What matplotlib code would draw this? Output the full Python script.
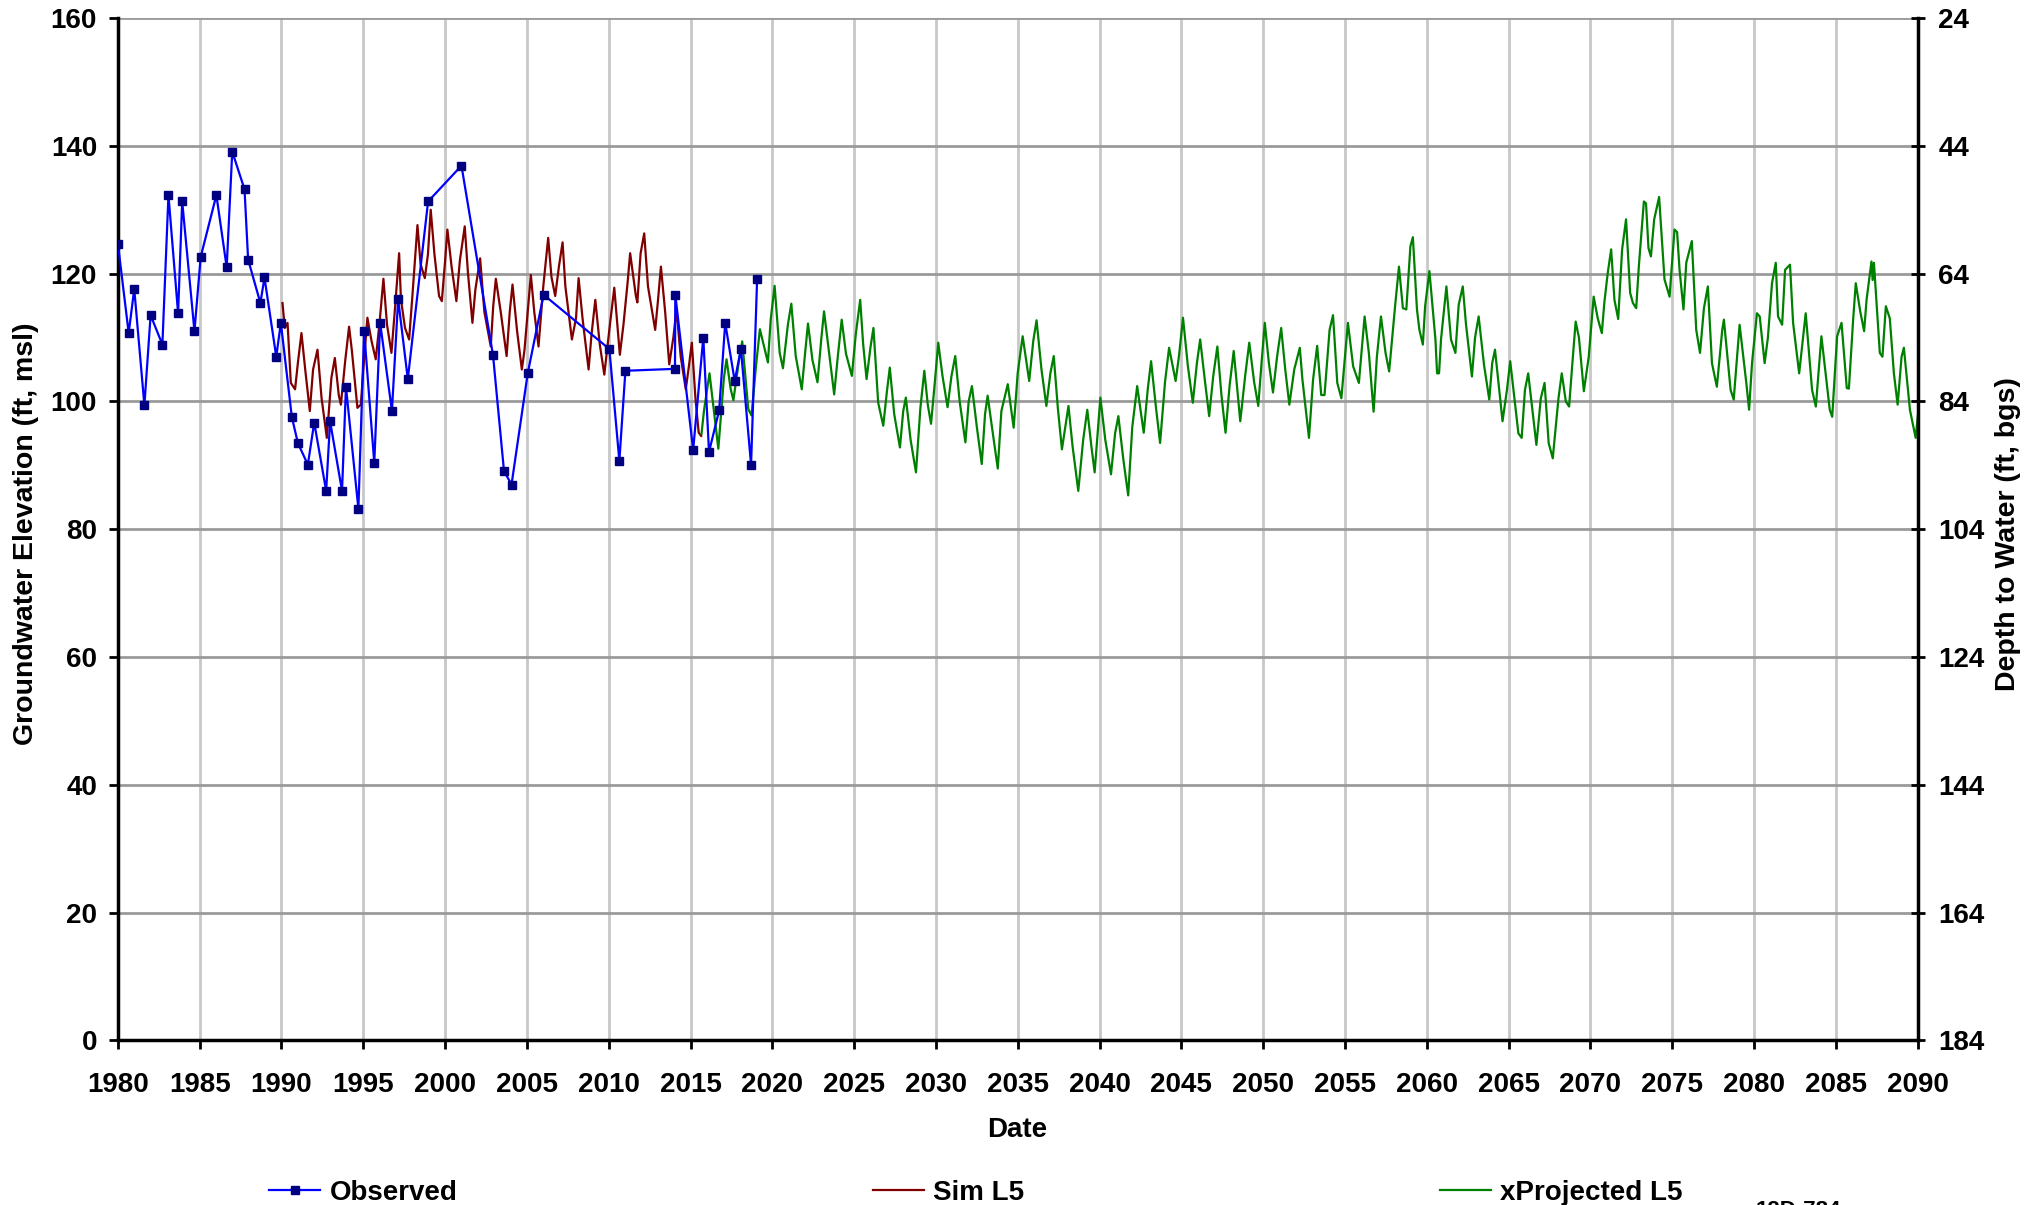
import matplotlib.pyplot as plt
from matplotlib.lines import Line2D

plt.rcParams['font.family'] = ['Liberation Sans', 'DejaVu Sans']
plt.rcParams['font.weight'] = 'bold'

# Observed groundwater elevations (ft, msl)
obs_year = [1980.0, 1980.66, 1981.0, 1981.62, 1982.0, 1982.72, 1983.09, 1983.68, 1983.93,
            1984.68, 1985.06, 1986.02, 1986.65, 1986.99, 1987.74, 1987.96, 1988.71, 1988.96,
            1989.68, 1989.96, 1990.63, 1991.0, 1991.61, 1992.0, 1992.73, 1992.97, 1993.70,
            1993.94, 1994.70, 1995.05, 1995.67, 1996.03, 1996.75, 1997.13, 1997.72, 1998.96,
            2001.0, 2002.93, 2003.60, 2004.06, 2005.05, 2006.02, 2010.04, 2010.65, 2011.02,
            2014.05, 2014.07, 2015.16, 2015.78, 2016.13, 2016.75, 2017.12, 2017.70, 2018.08,
            2018.70, 2019.07]
obs_elev = [124.7, 110.7, 117.6, 99.4, 113.5, 108.9, 132.3, 113.8, 131.3,
            111.0, 122.6, 132.3, 121.0, 139.1, 133.2, 122.2, 115.4, 119.4,
            107.0, 112.3, 97.6, 93.5, 90.1, 96.7, 86.0, 96.9, 86.0,
            102.3, 83.2, 111.0, 90.4, 112.3, 98.5, 116.0, 103.5, 131.3,
            136.9, 107.2, 89.1, 87.0, 104.4, 116.7, 108.2, 90.7, 104.8,
            105.1, 116.7, 92.4, 110.0, 92.1, 98.6, 112.3, 103.2, 108.2,
            90.1, 119.2]

# Simulated L5 (monthly, read as peaks / troughs / shoulders)
sim_year = [1990.06, 1990.2, 1990.37, 1990.57, 1990.83, 1991.0, 1991.22, 1991.45, 1991.73,
            1991.93, 1992.2, 1992.45, 1992.77, 1993.05, 1993.26, 1993.5, 1993.63, 1993.9,
            1994.13, 1994.3, 1994.64, 1994.85, 1995.0, 1995.25, 1995.5, 1995.76, 1996.0,
            1996.23, 1996.45, 1996.72, 1996.95, 1997.19, 1997.3, 1997.55, 1997.8, 1998.0,
            1998.31, 1998.5, 1998.76, 1998.95, 1999.12, 1999.35, 1999.63, 1999.8, 2000.0,
            2000.14, 2000.4, 2000.69, 2000.9, 2001.2, 2001.4, 2001.67, 2001.85, 2002.14,
            2002.4, 2002.79, 2002.94, 2003.1, 2003.4, 2003.76, 2003.95, 2004.12, 2004.4,
            2004.69, 2004.85, 2005.24, 2005.45, 2005.71, 2006.0, 2006.3, 2006.5, 2006.73,
            2006.95, 2007.18, 2007.35, 2007.75, 2008.0, 2008.16, 2008.4, 2008.77, 2008.95,
            2009.18, 2009.45, 2009.73, 2010.05, 2010.34, 2010.68, 2010.9, 2011.15, 2011.31,
            2011.66, 2011.75, 2011.95, 2012.17, 2012.4, 2012.84, 2013.0, 2013.19, 2013.45,
            2013.7, 2013.95, 2014.14, 2014.4, 2014.71, 2014.9, 2015.08, 2015.3, 2015.5,
            2015.65]
sim_elev = [115.4, 111.5, 112.3, 102.9, 101.9, 106.0, 110.7, 105.0, 98.5,
            105.0, 108.1, 100.5, 94.3, 103.7, 106.8, 101.0, 99.5, 106.5,
            111.7, 108.0, 99.0, 99.5, 105.0, 113.1, 109.5, 106.6, 112.5,
            119.2, 112.0, 107.6, 115.0, 123.2, 116.0, 111.5, 109.7, 116.5,
            127.6, 121.5, 119.3, 123.0, 130.0, 123.0, 116.5, 115.7, 122.0,
            126.9, 121.0, 115.7, 122.0, 127.4, 120.0, 112.3, 117.5, 122.4,
            114.0, 108.6, 114.9, 119.2, 114.0, 107.1, 114.0, 118.3, 111.0,
            105.0, 108.0, 119.8, 114.0, 108.6, 118.0, 125.6, 119.5, 116.5,
            121.0, 124.9, 118.0, 109.7, 113.0, 119.3, 113.0, 105.0, 110.5,
            115.9, 109.0, 104.2, 111.5, 117.8, 107.3, 112.0, 118.5, 123.2,
            116.5, 115.5, 123.2, 126.3, 118.0, 111.2, 115.5, 121.1, 114.0,
            105.8, 110.0, 114.4, 107.0, 101.9, 105.5, 109.2, 100.5, 95.1,
            94.6]

# Projected L5 (monthly, read as peaks / troughs / shoulders)
proj_year = [2015.67, 2015.82, 2016.16, 2016.45, 2016.7, 2017.04, 2017.2, 2017.45, 2017.62,
             2018.0, 2018.16, 2018.53, 2018.73, 2019.0, 2019.24, 2019.55, 2019.73, 2019.9,
             2020.14, 2020.45, 2020.65, 2020.95, 2021.16, 2021.43, 2021.8, 2022.0, 2022.18,
             2022.45, 2022.76, 2023.0, 2023.16, 2023.45, 2023.78, 2024.0, 2024.24, 2024.5,
             2024.86, 2025.1, 2025.37, 2025.55, 2025.76, 2026.0, 2026.18, 2026.47, 2026.78,
             2027.0, 2027.18, 2027.45, 2027.8, 2028.0, 2028.16, 2028.45, 2028.78, 2029.05,
             2029.29, 2029.5, 2029.7, 2029.95, 2030.14, 2030.4, 2030.71, 2030.95, 2031.18,
             2031.45, 2031.8, 2032.0, 2032.2, 2032.5, 2032.8, 2033.0, 2033.16, 2033.45,
             2033.78, 2034.0, 2034.39, 2034.75, 2035.0, 2035.3, 2035.7, 2035.95, 2036.15,
             2036.45, 2036.75, 2037.0, 2037.2, 2037.45, 2037.7, 2038.1, 2038.35, 2038.7,
             2039.0, 2039.25, 2039.5, 2039.7, 2040.05, 2040.35, 2040.7, 2040.95, 2041.15,
             2041.45, 2041.75, 2042.0, 2042.3, 2042.7, 2042.95, 2043.15, 2043.45, 2043.7,
             2044.0, 2044.25, 2044.65, 2044.85, 2045.1, 2045.4, 2045.7, 2045.95, 2046.15,
             2046.45, 2046.7, 2046.95, 2047.2, 2047.45, 2047.7, 2047.95, 2048.2, 2048.6,
             2048.9, 2049.15, 2049.45, 2049.7, 2049.9, 2050.1, 2050.35, 2050.6, 2050.85,
             2051.1, 2051.35, 2051.6, 2051.9, 2052.24, 2052.4, 2052.8, 2053.05, 2053.3,
             2053.55, 2053.75, 2054.06, 2054.27, 2054.53, 2054.78, 2055.18, 2055.5, 2055.85,
             2056.2, 2056.46, 2056.75, 2056.95, 2057.2, 2057.48, 2057.7, 2058.07, 2058.3,
             2058.54, 2058.75, 2059.0, 2059.15, 2059.4, 2059.55, 2059.76, 2059.9, 2060.16,
             2060.37, 2060.53, 2060.63, 2060.75, 2060.87, 2061.2, 2061.48, 2061.75, 2061.95,
             2062.2, 2062.4, 2062.76, 2062.95, 2063.17, 2063.5, 2063.82, 2064.0, 2064.17,
             2064.63, 2064.9, 2065.1, 2065.6, 2065.8, 2066.0, 2066.2, 2066.7, 2066.97,
             2067.2, 2067.45, 2067.7, 2068.05, 2068.25, 2068.5, 2068.7, 2068.9, 2069.1,
             2069.3, 2069.6, 2069.9, 2070.2, 2070.45, 2070.7, 2070.85, 2071.06, 2071.27,
             2071.47, 2071.7, 2071.94, 2072.18, 2072.43, 2072.6, 2072.8, 2072.96, 2073.27,
             2073.4, 2073.55, 2073.7, 2073.9, 2074.2, 2074.53, 2074.84, 2075.14, 2075.3,
             2075.45, 2075.69, 2075.86, 2076.2, 2076.47, 2076.7, 2076.94, 2077.18, 2077.43,
             2077.73, 2078.06, 2078.16, 2078.57, 2078.76, 2079.12, 2079.53, 2079.7, 2079.88,
             2080.18, 2080.35, 2080.65, 2080.85, 2081.1, 2081.33, 2081.47, 2081.72, 2081.9,
             2082.2, 2082.39, 2082.76, 2083.16, 2083.55, 2083.78, 2084.12, 2084.63, 2084.78,
             2085.08, 2085.35, 2085.67, 2085.8, 2086.06, 2086.22, 2086.5, 2086.73, 2086.88,
             2087.18, 2087.25, 2087.33, 2087.69, 2087.85, 2088.06, 2088.3, 2088.55, 2088.78,
             2089.02, 2089.16, 2089.53, 2089.88, 2090.14]
proj_elev = [94.9, 98.5, 104.4, 98.0, 92.6, 103.7, 106.6, 102.0, 100.2,
             107.1, 109.4, 98.8, 97.8, 105.5, 111.3, 108.0, 106.1, 112.8,
             118.1, 107.6, 105.2, 112.0, 115.3, 107.1, 101.9, 107.5, 112.2,
             106.5, 103.0, 110.0, 114.1, 108.0, 101.1, 107.0, 112.8, 107.5,
             104.0, 110.5, 115.9, 109.0, 103.5, 108.5, 111.5, 99.8, 96.2,
             101.5, 105.3, 98.0, 92.8, 98.5, 100.6, 94.0, 88.9, 99.0,
             104.8, 99.5, 96.5, 103.5, 109.2, 104.0, 99.1, 104.0, 107.1,
             100.0, 93.6, 100.0, 102.4, 96.0, 90.2, 98.0, 100.9, 95.5,
             89.5, 98.5, 102.7, 95.9, 104.5, 110.2, 103.2, 109.5, 112.7,
             105.0, 99.3, 104.5, 107.1, 99.0, 92.5, 99.3, 93.0, 86.0,
             94.0, 98.7, 93.0, 88.9, 100.6, 94.0, 88.6, 95.0, 97.7,
             91.0, 85.3, 96.0, 102.4, 95.1, 102.0, 106.3, 99.0, 93.5,
             103.0, 108.4, 103.2, 107.0, 113.1, 105.5, 99.8, 106.0, 109.7,
             103.0, 97.7, 104.0, 108.6, 101.0, 95.1, 102.5, 107.9, 96.9,
             104.0, 109.2, 103.0, 99.3, 106.0, 112.3, 106.0, 101.4, 107.0,
             111.5, 105.0, 99.5, 105.0, 108.4, 103.4, 94.3, 103.4, 108.7,
             101.0, 101.0, 111.2, 113.5, 102.9, 100.5, 112.3, 105.5, 102.9,
             113.3, 107.6, 98.4, 107.0, 113.3, 107.6, 104.7, 115.1, 121.1,
             114.6, 114.4, 124.3, 125.7, 114.4, 111.2, 108.9, 114.9, 120.4,
             114.4, 109.7, 104.4, 104.4, 109.7, 118.0, 109.7, 107.6, 115.1,
             118.0, 112.0, 103.9, 110.0, 113.3, 105.7, 100.3, 106.0, 108.1,
             96.9, 101.8, 106.3, 95.0, 94.3, 101.8, 104.4, 93.2, 100.5,
             102.9, 93.5, 91.1, 100.5, 104.4, 100.0, 99.2, 106.0, 112.5,
             110.0, 101.6, 107.0, 116.4, 113.0, 110.7, 115.4, 120.1, 123.8,
             115.9, 112.9, 123.8, 128.5, 117.0, 115.4, 114.6, 121.1, 131.3,
             131.0, 124.0, 122.7, 128.5, 132.0, 119.1, 116.4, 126.9, 126.5,
             120.6, 114.4, 121.7, 125.1, 111.2, 107.6, 114.6, 118.0, 106.0,
             102.3, 111.2, 112.8, 101.8, 100.3, 112.0, 102.9, 98.7, 106.0,
             113.8, 113.3, 106.0, 110.0, 118.5, 121.7, 113.3, 112.0, 120.6,
             121.4, 112.3, 104.4, 113.8, 101.8, 99.2, 110.2, 98.7, 97.6,
             110.2, 112.3, 102.1, 102.0, 112.8, 118.5, 114.0, 111.0, 115.9,
             121.9, 119.0, 121.7, 107.6, 107.0, 114.9, 113.0, 104.4, 99.5,
             107.0, 108.4, 98.7, 94.3, 101.0]

x_ticks = list(range(1980, 2091, 5))
elev_ticks = list(range(0, 161, 20))
depth_ticks = list(range(24, 185, 20))

fig = plt.figure(figsize=(20.29, 12.05), dpi=100)
ax = fig.add_axes([0.0581, 0.1366, 0.8870, 0.8484])

ax.plot(sim_year, sim_elev, color='#800000', lw=1.6, zorder=3)
ax.plot(proj_year, proj_elev, color='#008000', lw=1.6, zorder=3)
ax.plot(obs_year, obs_elev, color='#0000ff', lw=1.6, marker='s', ms=6,
        mfc='#000080', mec='#000080', zorder=4)

ax.set_xlim(1980, 2090)
ax.set_ylim(0, 160)
ax.set_xticks(x_ticks)
ax.set_yticks(elev_ticks)
ax.set_axisbelow(True)
ax.grid(axis='y', color='#9a9a9a', lw=2)
ax.grid(axis='x', color='#c8c8c8', lw=2)

for s in ['left', 'bottom']:
    ax.spines[s].set_linewidth(2.5)
ax.spines['top'].set_visible(False)
ax.spines['right'].set_visible(False)
ax.tick_params(axis='x', direction='out', length=6.5, width=2, pad=16, labelsize=20)
ax.tick_params(axis='y', direction='out', length=6.5, width=2, pad=8.5, labelsize=20)

ax2 = ax.twinx()
ax2.set_ylim(184, 24)
ax2.set_yticks(depth_ticks)
for s in ['top', 'left', 'bottom']:
    ax2.spines[s].set_visible(False)
ax2.spines['right'].set_linewidth(2.5)
ax2.tick_params(axis='y', direction='inout', length=9.4, width=2, pad=10.3, labelsize=20)

fig.text(26 / 2029, 0.557, 'Groundwater Elevation (ft, msl)', rotation=90,
         ha='center', va='center', fontsize=20.5)
fig.text(2008 / 2029, 0.557, 'Depth to Water (ft, bgs)', rotation=90,
         ha='center', va='center', fontsize=20.5)
fig.text(1017 / 2029, 1 - 1130 / 1205, 'Date', ha='center', va='center', fontsize=20)

handles = [
    Line2D([], [], color='#0000ff', lw=1.6, marker='s', ms=6, mfc='#000080', mec='#000080'),
    Line2D([], [], color='#800000', lw=1.6),
    Line2D([], [], color='#008000', lw=1.6),
]
fig.legend(handles, ['Observed', 'Sim L5', 'xProjected L5'], loc='center left',
           bbox_to_anchor=(269 / 2029, 1 - 1193 / 1205), ncol=3, frameon=False,
           fontsize=20, handlelength=1.85, handletextpad=0.33, columnspacing=14.95,
           borderpad=0, borderaxespad=0)

fig.text(1756 / 2029, 0.004, '12D-784', ha='left', va='top', fontsize=16)

fig.savefig('out.png', dpi=100)
